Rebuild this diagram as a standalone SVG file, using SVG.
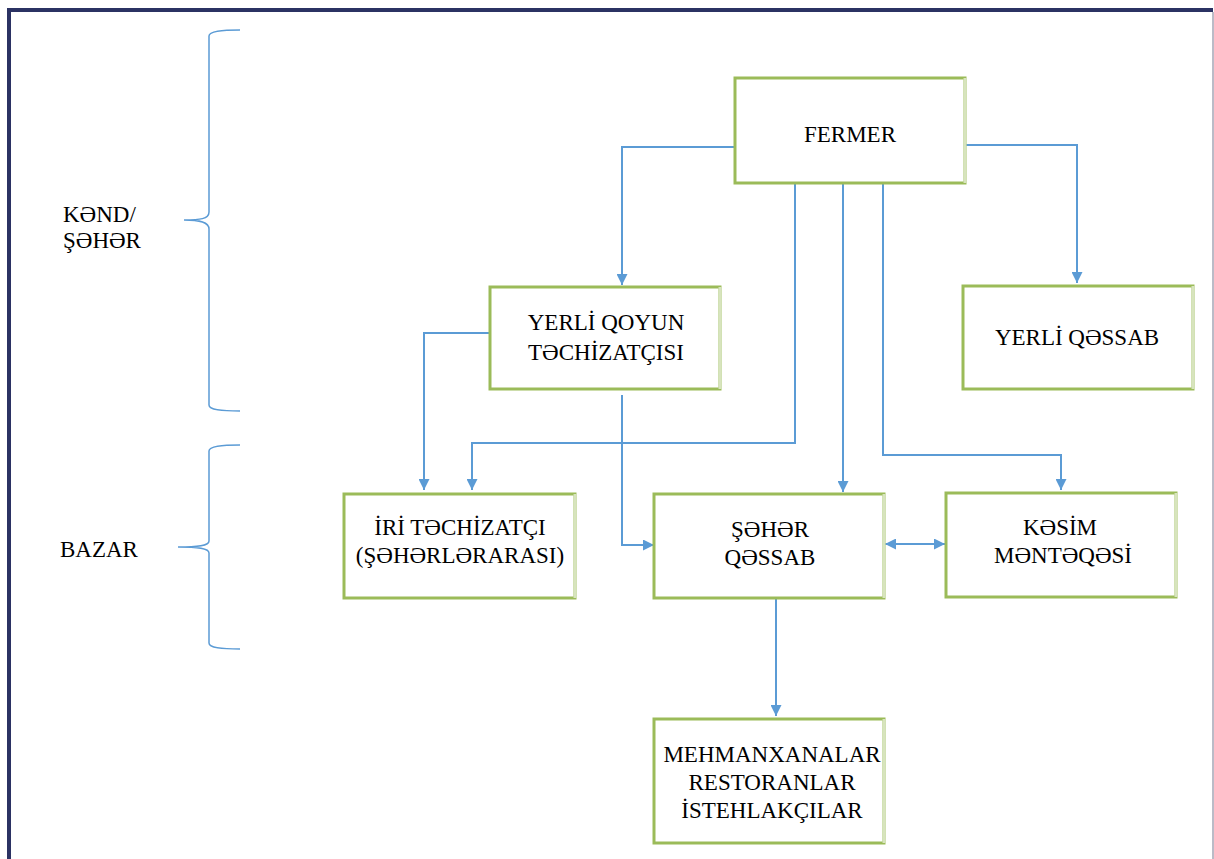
<svg xmlns="http://www.w3.org/2000/svg" width="1214" height="859" viewBox="0 0 1214 859">
<style>
.box{fill:#ffffff;stroke:#9bbb59;stroke-width:3}
.edge{stroke:#d7e4bd;stroke-width:3}
.t{font-family:"Liberation Serif","Noto Sans",serif;font-size:23px;fill:#000;text-anchor:middle}
.lbl{font-family:"Liberation Serif","Noto Sans",serif;font-size:23px;fill:#000}
.c{fill:none;stroke:#5b9bd5;stroke-width:2}
.br{fill:none;stroke:#5b9bd5;stroke-width:1.5}
</style>
<defs>
<marker id="ah" viewBox="0 0 10 10" refX="10" refY="5" markerWidth="11" markerHeight="11" markerUnits="userSpaceOnUse" orient="auto-start-reverse">
<path d="M0,0 L10,5 L0,10 z" fill="#5b9bd5"/>
</marker>
</defs>
<rect x="0" y="0" width="1214" height="859" fill="#ffffff"/>
<g id="frame">
<line x1="7" y1="10" x2="1213" y2="10" stroke="#2b3263" stroke-width="4"/>
<line x1="9" y1="8" x2="9" y2="859" stroke="#2b3263" stroke-width="4"/>
<line x1="1213" y1="12" x2="1213" y2="859" stroke="#a4a4b4" stroke-width="1.5"/>
</g>
<g id="braces">
<path class="br" d="M240,30 C222,30 209,31 209,36 L209,212 C209,219 200,220 184,220 C200,220 209,222 209,229 L209,405 C209,410 222,411 240,411"/>
<path class="br" d="M240,445 C222,445 209,446 209,451 L209,541 C209,546 198,547 178,547 C198,547 209,548 209,553 L209,643 C209,648 222,649 240,649"/>
<text class="lbl" x="63" y="222">KƏND/</text>
<text class="lbl" x="63" y="248">ŞƏHƏR</text>
<text class="lbl" x="60" y="557">BAZAR</text>
</g>
<g id="connectors">
<path class="c" d="M735,147 L622,147 L622,285" marker-end="url(#ah)"/>
<path class="c" d="M965,145 L1077,145 L1077,283" marker-end="url(#ah)"/>
<path class="c" d="M795,183 L795,443 L472,443 L472,490" marker-end="url(#ah)"/>
<path class="c" d="M490,333 L424,333 L424,490" marker-end="url(#ah)"/>
<path class="c" d="M843,183 L843,492" marker-end="url(#ah)"/>
<path class="c" d="M883,183 L883,455 L1061,455 L1061,490" marker-end="url(#ah)"/>
<path class="c" d="M622,395 L622,545 L654,545" marker-end="url(#ah)"/>
<path class="c" d="M885,544 L945,544" marker-start="url(#ah)" marker-end="url(#ah)"/>
<path class="c" d="M776,598 L776,716" marker-end="url(#ah)"/>
</g>
<g id="fermer">
<rect class="box" x="735" y="78" width="230" height="105"/>
<line class="edge" x1="965" y1="78" x2="965" y2="183"/>
<text class="t" x="850" y="142">FERMER</text>
</g>
<g id="yerli-qoyun">
<rect class="box" x="490" y="287" width="230" height="102"/>
<line class="edge" x1="720" y1="287" x2="720" y2="389"/>
<text class="t" x="606" y="330">YERLİ QOYUN</text>
<text class="t" x="606" y="360">TƏCHİZATÇISI</text>
</g>
<g id="yerli-qessab">
<rect class="box" x="963" y="286" width="230" height="103"/>
<line class="edge" x1="1193" y1="286" x2="1193" y2="389"/>
<text class="t" x="1077" y="345">YERLİ QƏSSAB</text>
</g>
<g id="iri-techizatci">
<rect class="box" x="344" y="494" width="231" height="104"/>
<line class="edge" x1="575" y1="494" x2="575" y2="598"/>
<text class="t" x="460" y="535">İRİ TƏCHİZATÇI</text>
<text class="t" x="460" y="563">(ŞƏHƏRLƏRARASI)</text>
</g>
<g id="seher-qessab">
<rect class="box" x="654" y="494" width="230" height="104"/>
<line class="edge" x1="884" y1="494" x2="884" y2="598"/>
<text class="t" x="770" y="537">ŞƏHƏR</text>
<text class="t" x="770" y="565">QƏSSAB</text>
</g>
<g id="kesim">
<rect class="box" x="946" y="493" width="230" height="104"/>
<line class="edge" x1="1176" y1="493" x2="1176" y2="597"/>
<text class="t" x="1060" y="535">KƏSİM</text>
<text class="t" x="1063" y="563">MƏNTƏQƏSİ</text>
</g>
<g id="mehmanxanalar">
<rect class="box" x="654" y="719" width="230" height="124"/>
<line class="edge" x1="884" y1="719" x2="884" y2="843"/>
<text class="t" x="772" y="762">MEHMANXANALAR</text>
<text class="t" x="772" y="790">RESTORANLAR</text>
<text class="t" x="772" y="818">İSTEHLAKÇILAR</text>
</g>
</svg>
